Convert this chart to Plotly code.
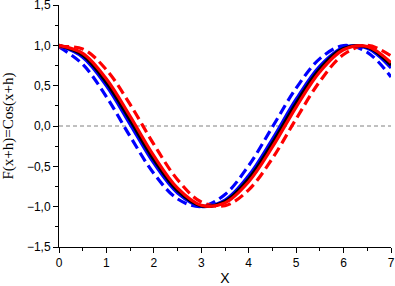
import plotly.graph_objects as go

x = [0, 0.5, 1, 1.5, 2, 2.5, 3, 3.5, 4, 4.5, 5, 5.5, 6, 6.5, 7]

blue_dash = [0.980, 0.765, 0.362, -0.129, -0.589, -0.904, -0.998, -0.848, -0.490, -0.012, 0.469, 0.835, 0.997, 0.914, 0.608]
blue_solid = [0.999, 0.853, 0.498, 0.021, -0.461, -0.830, -0.996, -0.918, -0.615, -0.162, 0.332, 0.743, 0.973, 0.965, 0.720]
black_solid = [1.000, 0.878, 0.540, 0.071, -0.416, -0.801, -0.990, -0.936, -0.654, -0.211, 0.284, 0.709, 0.960, 0.977, 0.754]
red_solid = [0.999, 0.900, 0.582, 0.121, -0.370, -0.770, -0.982, -0.953, -0.691, -0.260, 0.235, 0.672, 0.945, 0.986, 0.786]
red_dash = [0.980, 0.955, 0.697, 0.267, -0.227, -0.666, -0.942, -0.988, -0.791, -0.401, 0.088, 0.554, 0.886, 1.000, 0.869]

y_ticks = [-1.5, -1.0, -0.5, 0.0, 0.5, 1.0, 1.5]
x_ticks = [0, 1, 2, 3, 4, 5, 6, 7]

fig = go.Figure()
series = [
    (blue_dash, "#0000FF", "10px,5px"),
    (red_dash, "#FF0000", "10px,5px"),
    (blue_solid, "#0000FF", "solid"),
    (black_solid, "#000000", "solid"),
    (red_solid, "#FF0000", "solid"),
]
for ys, col, dash in series:
    fig.add_trace(go.Scatter(x=x, y=ys, mode="lines",
                             line=dict(color=col, width=3.2, dash=dash, shape="spline", smoothing=1.0),
                             showlegend=False))

fig.add_hline(y=0, line=dict(color="#808080", width=1, dash="4px,3px"), layer="below")

fig.update_layout(
    width=395, height=286,
    margin=dict(l=59, r=4, t=5, b=39, autoexpand=False),
    plot_bgcolor="white", paper_bgcolor="white",
    separators=", ",
    font=dict(family="Liberation Sans, Arial", size=12, color="black"),
)
fig.update_xaxes(
    range=[0, 7], tickvals=x_ticks, ticktext=[str(v) for v in x_ticks],
    showgrid=False, zeroline=False, showline=True, linecolor="black", linewidth=1,
    ticks="outside", ticklen=5, tickcolor="black", automargin=False,
    ticklabeloverflow="allow",
    minor=dict(ticks="outside", ticklen=3, dtick=0.5, tick0=0, tickcolor="black"),
    title=dict(text="X", font=dict(family="Liberation Sans, Arial", size=14), standoff=6),
)
fig.update_yaxes(
    range=[-1.5, 1.5], tickvals=y_ticks, tickformat=".1f",
    showgrid=False, zeroline=False, showline=True, linecolor="black", linewidth=1,
    ticks="outside", ticklen=5, tickcolor="black", automargin=False,
    ticklabeloverflow="allow",
    minor=dict(ticks="outside", ticklen=3, dtick=0.25, tick0=0, tickcolor="black"),
    title=dict(text="F(x+h)=Cos(x+h)", font=dict(family="Liberation Serif, Times New Roman", size=15), standoff=10),
)

fig.write_html("out.html", config={"displayModeBar": False},
               post_script="document.body.style.margin='0';document.body.style.padding='0';")
